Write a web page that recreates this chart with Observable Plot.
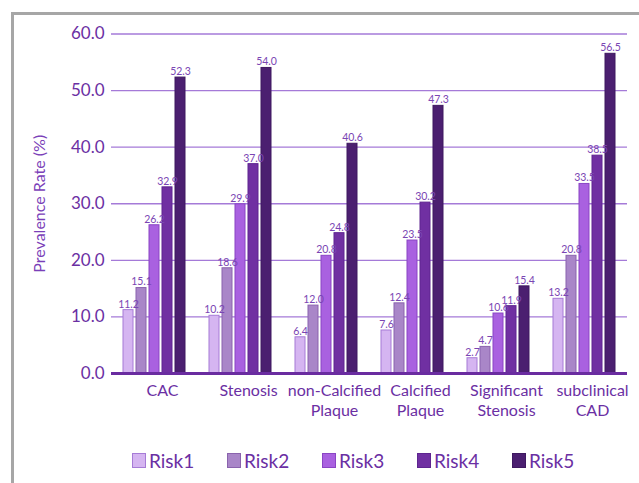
<!DOCTYPE html>
<html>
<head>
<meta charset="utf-8">
<script src="https://cdn.jsdelivr.net/npm/d3@7"></script>
<script src="https://cdn.jsdelivr.net/npm/@observablehq/plot@0.6"></script>
<style>
  html, body { margin: 0; padding: 0; background: #fff; }
  body { width: 639px; height: 483px; position: relative; overflow: hidden; font-family: Lato, "Open Sans", sans-serif; }
  #frame { position: absolute; left: 11px; top: 12px; width: 700px; height: 600px; border: 3px solid #a6a6a6; box-sizing: border-box; }
  #chart { position: absolute; left: 0; top: 0; }
  #legend { position: absolute; left: 132px; top: 449px; display: flex; }
  .item { width: 95px; display: flex; align-items: center; font-size: 19px; color: #6b2fa3; }
  .sw { width: 14px; height: 15px; margin-right: 3px; box-sizing: border-box; border: 1px solid #8a55c0; }
</style>
</head>
<body>
<div id="frame"></div>
<div id="chart"></div>
<div id="legend"></div>
<script>
const categories = ["CAC", "Stenosis", "non-Calcified\nPlaque", "Calcified\nPlaque", "Significant\nStenosis", "subclinical\nCAD"];
const risks = ["Risk1", "Risk2", "Risk3", "Risk4", "Risk5"];
const risk1 = [11.2, 10.2, 6.4, 7.6, 2.7, 13.2];
const risk2 = [15.1, 18.6, 12.0, 12.4, 4.7, 20.8];
const risk3 = [26.2, 29.9, 20.8, 23.5, 10.6, 33.5];
const risk4 = [32.9, 37.0, 24.8, 30.2, 11.9, 38.5];
const risk5 = [52.3, 54.0, 40.6, 47.3, 15.4, 56.5];
const yTicks = [0, 10, 20, 30, 40, 50, 60];
const colors = ["#d5b5f1", "#a986c8", "#a961e0", "#7030a2", "#4b1f70"];
const strokes = ["#a67bd6", "#8a63ad", "#8a45c4", "#5e2590", "#3e1860"];

const series = [risk1, risk2, risk3, risk4, risk5];
const data = [];
categories.forEach((c, i) => risks.forEach((r, j) => data.push({category: c, risk: r, value: series[j][i]})));

const chart = Plot.plot({
  width: 639,
  height: 425,
  marginTop: 33.5,
  marginBottom: 52,
  marginLeft: 109,
  marginRight: 10,
  style: {fontFamily: "Lato, 'Open Sans', sans-serif", background: "transparent"},
  fx: {domain: categories, paddingInner: 0, paddingOuter: 0, axis: null},
  x: {domain: risks, paddingInner: 0.25, paddingOuter: 0.86, axis: null},
  y: {domain: [0, 60], axis: null},
  color: {domain: risks, range: colors},
  marks: [
    Plot.ruleY(yTicks.filter(d => d > 0), {stroke: "#a57ad8", strokeWidth: 1.3}),
    Plot.barY(data, {fx: "category", x: "risk", y: "value", fill: "risk",
      stroke: d => strokes[risks.indexOf(d.risk)], strokeWidth: 1}),
    Plot.text(data, {fx: "category", x: "risk", y: "value", text: d => d.value.toFixed(1),
      dy: -6, fontSize: 10.5, fill: "#7a45b3"}),
    Plot.ruleY([0], {stroke: "#6a2ca0", strokeWidth: 3}),
    Plot.axisY({ticks: yTicks, tickFormat: d => d.toFixed(1), tickSize: 0, tickPadding: 7,
      fontSize: 17, fill: "#6b2fa3", label: "Prevalence Rate (%)", labelAnchor: "center",
      labelArrow: "none", labelOffset: 78}),
    Plot.axisFx({anchor: "bottom", tickSize: 0, tickPadding: 8, fontSize: 16, fill: "#6b2fa3",
      dx: 8, lineHeight: 1.25, label: null})
  ]
});
document.getElementById("chart").appendChild(chart);

// style the y label
chart.querySelectorAll("text").forEach(t => {
  if (t.textContent === "Prevalence Rate (%)") { t.setAttribute("fill", "#7a40b8"); t.style.fontSize = "16px"; }
});

const legend = document.getElementById("legend");
risks.forEach((r, j) => {
  const item = document.createElement("div");
  item.className = "item";
  const sw = document.createElement("span");
  sw.className = "sw";
  sw.style.background = colors[j];
  sw.style.borderColor = strokes[j];
  item.appendChild(sw);
  item.appendChild(document.createTextNode(r));
  legend.appendChild(item);
});
</script>
</body>
</html>
